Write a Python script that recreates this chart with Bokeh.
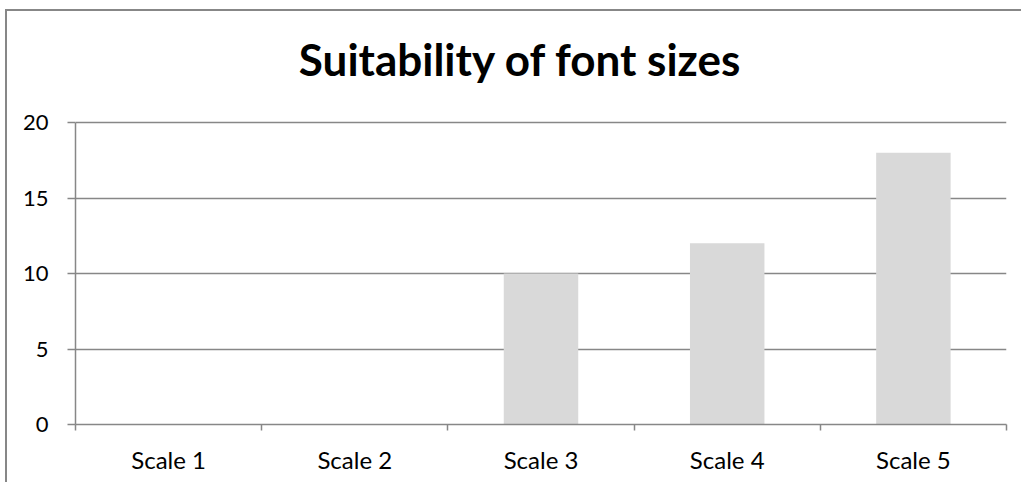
from bokeh.plotting import figure
from bokeh.models import Range1d, FixedTicker, Label
from bokeh.embed import file_html
from bokeh.resources import INLINE

categories = ["Scale 1", "Scale 2", "Scale 3", "Scale 4", "Scale 5"]
values = [0, 0, 10, 12, 18]
y_ticks = [0, 5, 10, 15, 20]
title_text = "Suitability of font sizes"

GRAY = "#878787"
FONT = "Lato"
DX, DY = 7, 11          # offset of the canvas inside the outer border
AXIS_TOP = 122 - DY     # canvas y of the value 20
AXIS_BOTTOM = 424 - DY  # canvas y of the value 0
Y_MAX = 20

xpos = [i + 0.5 for i in range(len(categories))]
bounds = [float(i) for i in range(len(categories) + 1)]

# the frame reaches the top of the canvas, so the title can sit inside it;
# the range is stretched so that the value 20 still lands at AXIS_TOP
y_end = Y_MAX * AXIS_BOTTOM / (AXIS_BOTTOM - AXIS_TOP)

p = figure(width=1025 - DX - 2, height=486 - DY - 2, x_range=Range1d(0, len(categories)),
           y_range=Range1d(0, y_end), output_backend="svg", toolbar_location=None,
           min_border_left=75 - DX, min_border_right=17, min_border_top=0,
           min_border_bottom=486 - DY - 2 - AXIS_BOTTOM, title=None)
p.outline_line_color = None
p.background_fill_color = "white"
p.border_fill_color = "white"
p.styles = {"border-left": "2px solid " + GRAY, "border-top": "2px solid " + GRAY,
            "border-right": "0px none", "border-bottom": "0px none",
            "margin-left": "5px", "margin-top": "9px"}

title = Label(x=445, y=AXIS_BOTTOM - (77 - DY) + 19, x_units="screen", y_units="screen",
              text=title_text, text_font=FONT, text_font_style="bold",
              text_font_size="44px", text_color="black", text_align="center",
              text_baseline="alphabetic")
p.add_layout(title)

p.vbar(x=xpos, top=values, width=0.4, fill_color="#d9d9d9", line_color=None)

# x axis
xa = p.xaxis[0]
xa.ticker = FixedTicker(ticks=xpos, minor_ticks=bounds)
xa.major_label_overrides = {x: c for x, c in zip(xpos, categories)}
xa.major_tick_line_color = None
xa.minor_tick_in = 0
xa.minor_tick_out = 6
xa.minor_tick_line_color = GRAY
xa.minor_tick_line_width = 1.5
xa.axis_line_color = GRAY
xa.axis_line_width = 1.5
xa.major_label_text_font = FONT
xa.major_label_text_font_size = "24px"
xa.major_label_text_color = "black"
xa.major_label_standoff = 14

# y axis
ya = p.yaxis[0]
ya.ticker = FixedTicker(ticks=y_ticks, minor_ticks=[])
ya.bounds = (0, Y_MAX)
ya.major_tick_in = 0
ya.major_tick_out = 8
ya.major_tick_line_color = GRAY
ya.major_tick_line_width = 1.5
ya.axis_line_color = GRAY
ya.axis_line_width = 1.5
ya.major_label_text_font = FONT
ya.major_label_text_font_size = "22px"
ya.major_label_text_color = "black"
ya.major_label_standoff = 19

p.xgrid.grid_line_color = None
p.ygrid.ticker = FixedTicker(ticks=y_ticks)
p.ygrid.grid_line_color = GRAY
p.ygrid.grid_line_width = 1.5

open("out.html", "w").write(file_html(p, INLINE))
